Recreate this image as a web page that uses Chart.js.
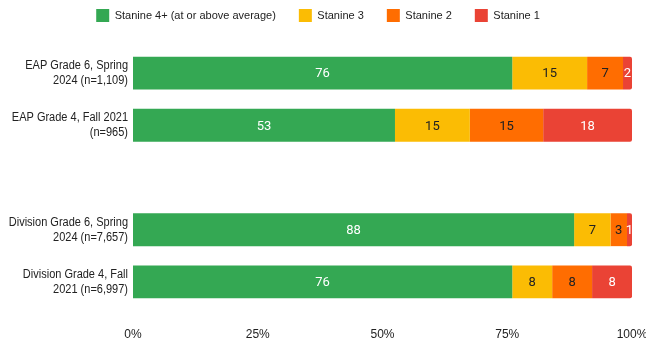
<!DOCTYPE html>
<html>
<head>
<meta charset="utf-8">
<script src="https://cdn.jsdelivr.net/npm/chart.js@4.4.1/dist/chart.umd.min.js"></script>
<style>
  html, body { margin: 0; padding: 0; background: #ffffff; }
  #wrap { width: 646px; height: 343px; position: relative; }
</style>
</head>
<body>
<div id="wrap"><canvas id="c" width="646" height="343"></canvas></div>
<script>
// ---- data ----
const categories = [
  ['EAP Grade 6, Spring', '2024 (n=1,109)'],
  ['EAP Grade 4, Fall 2021', '(n=965)'],
  '',
  ['Division Grade 6, Spring', '2024 (n=7,657)'],
  ['Division Grade 4, Fall', '2021 (n=6,997)']
];
const seriesNames = ['Stanine 4+ (at or above average)', 'Stanine 3', 'Stanine 2', 'Stanine 1'];
const stanine4plus = [76.0, 52.5, null, 88.4, 76.0];
const stanine3     = [15.0, 15.0, null, 7.3, 8.0];
const stanine2     = [7.2, 14.7, null, 3.3, 8.0];
const stanine1     = [1.8, 17.8, null, 1.0, 8.0];
const xTicks = [0, 25, 50, 75, 100];

const colors = ['#34A853', '#FBBC04', '#FF6D01', '#EA4335'];
const labelColors = ['#ffffff', '#222222', '#222222', '#ffffff'];
const TEXT = '#222222';

// values drawn inside the segments
const valueLabels = {
  id: 'valueLabels',
  afterDatasetsDraw(chart) {
    const ctx = chart.ctx;
    ctx.save();
    ctx.font = "13px Roboto, sans-serif";
    ctx.textAlign = 'center';
    ctx.textBaseline = 'middle';
    chart.data.datasets.forEach((ds, di) => {
      const meta = chart.getDatasetMeta(di);
      meta.data.forEach((el, i) => {
        const v = ds.data[i];
        if (v === null || v === undefined) return;
        const p = el.getProps(['x', 'y', 'base'], true);
        ctx.fillStyle = labelColors[di];
        ctx.fillText(String(Math.round(v)), (p.x + p.base) / 2, p.y + 1);
      });
    });
    ctx.restore();
  }
};

// condensed category labels, positioned by the y scale; legend placement tweaks
const condensedYLabels = {
  id: 'condensedYLabels',
  beforeLayout(chart) {
    const lg = chart.legend;
    if (lg && !lg._patched) {
      lg._patched = true;
      const origFit = lg.fit;
      lg.fit = function () { origFit.call(this); this.height = 61; };
      const origDraw = lg.draw;
      lg.draw = function () {
        const c = this.ctx;
        c.save();
        c.translate(-5, 0);
        origDraw.apply(this, arguments);
        c.restore();
      };
    }
  },
  afterDraw(chart) {
    const ctx = chart.ctx;
    const ys = chart.scales.y;
    const right = chart.chartArea.left - 5;
    ctx.save();
    ctx.font = "12.5px 'Liberation Sans', Arial, sans-serif";
    ctx.fillStyle = TEXT;
    ctx.textAlign = 'right';
    ctx.textBaseline = 'middle';
    const lh = 15;
    chart.data.labels.forEach((lab, i) => {
      const lines = Array.isArray(lab) ? lab : [lab];
      if (!lines.join('')) return;
      const cy = ys.getPixelForTick(i);
      const y0 = cy - (lines.length - 1) * lh / 2;
      lines.forEach((t, k) => {
        ctx.save();
        ctx.translate(right, y0 + k * lh);
        ctx.scale(0.88, 1);
        ctx.fillText(t, 0, 0);
        ctx.restore();
      });
    });
    ctx.restore();
  }
};

const allSeries = [stanine4plus, stanine3, stanine2, stanine1];
new Chart(document.getElementById('c'), {
  type: 'bar',
  data: {
    labels: categories,
    datasets: allSeries.map((d, i) => ({
      label: seriesNames[i],
      data: d,
      backgroundColor: colors[i],
      borderWidth: 0,
      borderRadius: i === 3 ? {topRight: 2, bottomRight: 2, topLeft: 0, bottomLeft: 0} : 0,
      borderSkipped: false,
      categoryPercentage: 1.0,
      barPercentage: 0.63
    }))
  },
  options: {
    indexAxis: 'y',
    responsive: false,
    animation: false,
    events: [],
    layout: { padding: { left: 0, right: 0, top: -14, bottom: 0 } },
    plugins: {
      legend: {
        position: 'top',
        labels: {
          boxWidth: 13, boxHeight: 13, padding: 23,
          color: TEXT,
          font: { family: "'Liberation Sans', Arial, sans-serif", size: 11 }
        }
      },
      tooltip: { enabled: false }
    },
    scales: {
      x: {
        stacked: true,
        min: 0, max: 100,
        afterBuildTicks: s => { s.ticks = xTicks.map(v => ({ value: v })); },
        afterFit: s => { s.height = 35; s.paddingRight = 14; s.paddingLeft = 0; },
        grid: { display: false },
        border: { display: false },
        ticks: {
          padding: 11,
          color: TEXT,
          font: { family: "'Liberation Sans', Arial, sans-serif", size: 12 },
          callback: v => v + '%',
          maxRotation: 0
        }
      },
      y: {
        stacked: true,
        afterFit: s => { s.width = 133; },
        grid: { display: false },
        border: { display: false },
        ticks: {
          color: 'rgba(0,0,0,0)',
          font: { size: 12 }
        }
      }
    }
  },
  plugins: [valueLabels, condensedYLabels]
});
</script>
</body>
</html>
